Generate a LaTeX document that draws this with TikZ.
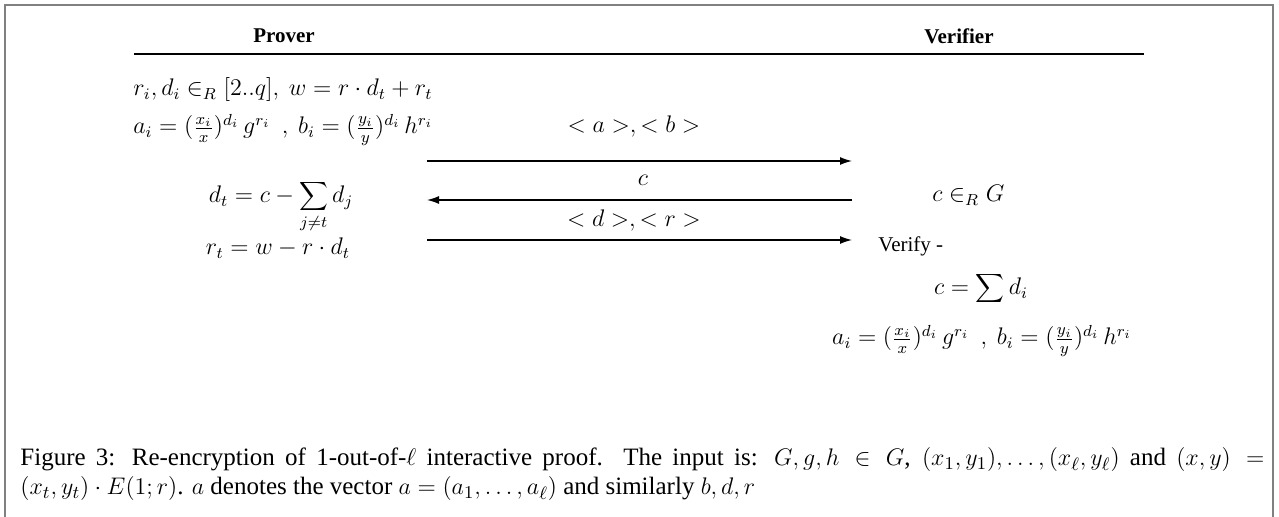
\documentclass[tikz,border=0pt]{standalone}
\usepackage{fontspec}
\setmainfont{Liberation Serif}
\usetikzlibrary{arrows.meta}
\begin{document}
\begin{tikzpicture}[x=0.5pt,y=-0.5pt,
  hdr/.style={font=\fontsize{10.5}{12}\selectfont\bfseries, inner sep=0},
  mth/.style={font=\fontsize{11.5}{14}\selectfont, inner sep=0},
  txt/.style={font=\fontsize{10.5}{12}\selectfont, inner sep=0},
  captxt/.style={font=\fontsize{12.5}{14.5}\selectfont, inner sep=0, anchor=base west},
  msg/.style={-{Latex[length=6pt,width=4pt]}, line width=0.65pt},
  framestyle/.style={draw=gray, line width=0.9pt}]
\useasboundingbox (0,0) rectangle (1279,517);
\draw[framestyle] (5,517) -- (5,5) -- (1273,5) -- (1273,517);
% headers
\node[hdr] (prover) at (284,36) {Prover};
\node[hdr] (verifier) at (959,36) {Verifier};
\coordinate (rl) at (134,54);
\coordinate (rr) at (1144,54);
\draw[line width=0.65pt] (rl) -- (rr);
% prover column
\node[mth, anchor=base west] (p1) at (133,96) {$r_i,d_i\in_R[2..q],\ w=r\cdot d_t+r_t$};
\node[mth, anchor=base west] (p2) at (133,134) {$a_i=(\frac{x_i}{x})^{d_i}\,g^{r_i}\ \ ,\ b_i=(\frac{y_i}{y})^{d_i}\,h^{r_i}$};
\node[mth, anchor=base] (p3) at (281,203) {$\displaystyle d_t=c-\sum_{j\neq t}d_j$};
\node[mth, anchor=base] (p4) at (278,255) {$r_t=w-r\cdot d_t$};
% messages
\coordinate (m1s) at (427,161); \coordinate (m1e) at (852,161);
\coordinate (m2s) at (852,200); \coordinate (m2e) at (427,200);
\coordinate (m3s) at (427,240); \coordinate (m3e) at (852,240);
\draw[msg] (m1s) -- (m1e);
\draw[msg] (m2s) -- (m2e);
\draw[msg] (m3s) -- (m3e);
\node[mth, anchor=base] (l1) at (634,133) {$<a>,<b>$};
\node[mth, anchor=base] (l2) at (643,186) {$c$};
\node[mth, anchor=base] (l3) at (634,227) {$<d>,<r>$};
% verifier column
\node[mth, anchor=base west] (v1) at (932,202) {$c\in_R G$};
\node[txt, anchor=base west] (v2) at (878,252) {Verify -};
\node[mth, anchor=base] (v3) at (981,295) {$\displaystyle c=\sum d_i$};
\node[mth, anchor=base] (v4) at (982,345) {$a_i=(\frac{x_i}{x})^{d_i}\,g^{r_i}\ \ ,\ b_i=(\frac{y_i}{y})^{d_i}\,h^{r_i}$};
% caption
\node[captxt] (c1) at (20,466) {\makebox[622pt][s]{Figure 3: Re-encryption of 1-out-of-$\ell$ interactive proof. The input is: $G,g,h\in G$, $(x_1,y_1),\ldots,(x_\ell,y_\ell)$ and $(x,y)=$}};
\node[captxt] (c2) at (20,495) {$(x_t,y_t)\cdot E(1;r)$. $a$ denotes the vector $a=(a_1,\ldots,a_\ell)$ and similarly $b,d,r$};
\end{tikzpicture}
\end{document}
